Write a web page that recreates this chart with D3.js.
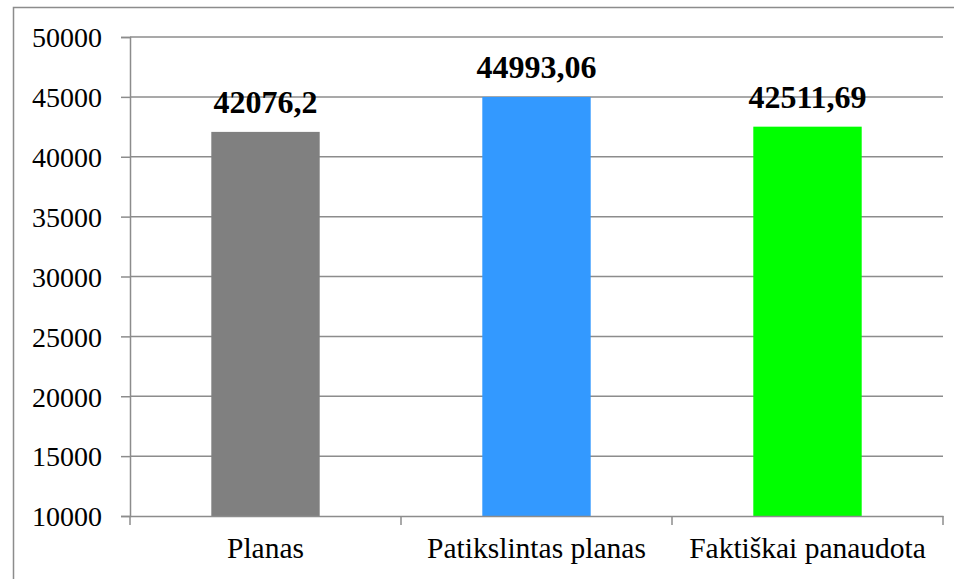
<!DOCTYPE html>
<html><head><meta charset="utf-8">
<script src="https://cdn.jsdelivr.net/npm/d3@7"></script>
<style>html,body{margin:0;padding:0;background:#fff;}svg{display:block;}</style>
</head><body>
<svg id="c" width="954" height="579"></svg>
<script>
const categories = ["Planas", "Patikslintas planas", "Faktiškai panaudota"];
const values = [42076.2, 44993.06, 42511.69];
const valueLabels = ["42076,2", "44993,06", "42511,69"];
const colors = ["#808080", "#3399FF", "#00FF00"];
const yTicks = [10000, 15000, 20000, 25000, 30000, 35000, 40000, 45000, 50000];

const svg = d3.select("#c");
const L = 130, R = 943, T = 37, B = 516;
const font = "Liberation Serif";

// outer border
svg.append("rect").attr("x", 13.5).attr("y", 7.5).attr("width", 960).attr("height", 600)
  .attr("fill", "none").attr("stroke", "#8c8c8c").attr("stroke-width", 1.5);

const x = d3.scaleBand().domain(categories).range([L, R]).paddingInner(0.6).paddingOuter(0.3);
const y = d3.scaleLinear().domain([10000, 50000]).range([B, T]);

// gridlines
svg.append("g").selectAll("line").data(yTicks.slice(1)).join("line")
  .attr("x1", L).attr("x2", R).attr("y1", d => y(d)).attr("y2", d => y(d))
  .attr("stroke", "#8c8c8c").attr("stroke-width", 1.5);

// bars
svg.append("g").selectAll("rect").data(values).join("rect")
  .attr("x", (d, i) => x(categories[i])).attr("width", x.bandwidth())
  .attr("y", d => y(d)).attr("height", d => B - y(d))
  .attr("fill", (d, i) => colors[i]);

// y axis
const yAxis = d3.axisLeft(y).tickValues(yTicks).tickSize(9).tickPadding(19).tickFormat(d3.format("d"));
const gy = svg.append("g").attr("transform", `translate(${L},0)`).call(yAxis)
  .attr("font-family", font).attr("font-size", 28);
gy.select(".domain").attr("stroke", "#8c8c8c").attr("stroke-width", 1.5);
gy.selectAll(".tick line").attr("stroke", "#8c8c8c").attr("stroke-width", 1.5);
gy.selectAll(".tick text").attr("fill", "#000").attr("dy", "0.35em");

// x axis
const xAxis = d3.axisBottom(x).tickSize(0);
const gx = svg.append("g").attr("transform", `translate(0,${B})`).call(xAxis)
  .attr("font-family", font).attr("font-size", 29.5);
gx.select(".domain").attr("stroke", "#8c8c8c").attr("stroke-width", 1.5);
gx.selectAll(".tick text").attr("fill", "#000").attr("y", 42).attr("dy", 0);
const bounds = d3.range(categories.length + 1).map(i => L + (R - L) * i / categories.length);
gx.append("g").selectAll("line").data(bounds).join("line")
  .attr("x1", d => d).attr("x2", d => d).attr("y1", 0).attr("y2", 9)
  .attr("stroke", "#8c8c8c").attr("stroke-width", 1.5);

// value labels
svg.append("g").selectAll("text").data(values).join("text")
  .attr("x", (d, i) => x(categories[i]) + x.bandwidth() / 2)
  .attr("y", d => y(d) - 19)
  .attr("text-anchor", "middle").attr("font-family", font).attr("font-weight", "bold")
  .attr("font-size", 32).attr("fill", "#000")
  .text((d, i) => valueLabels[i]);
</script>
</body></html>
